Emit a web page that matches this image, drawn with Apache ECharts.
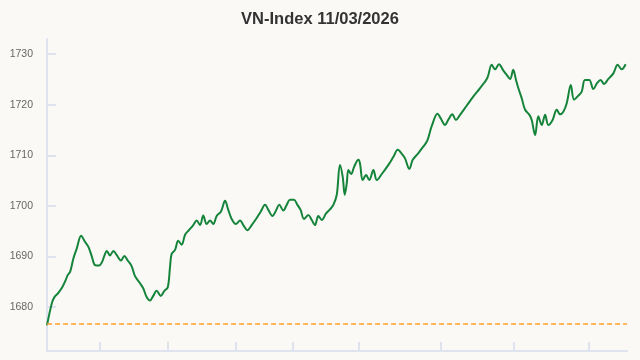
<!DOCTYPE html>
<html>
<head>
<meta charset="utf-8">
<script src="https://cdn.jsdelivr.net/npm/echarts@6/dist/echarts.min.js"></script>
<style>
html,body{margin:0;padding:0;background:#faf9f6;}
#chart{width:640px;height:360px;}
</style>
</head>
<body>
<div id="chart"></div>
<script>
// Minutes since session open (lunch break removed)
var minutes = [0,2.1,3.2,5.0,6.7,8.2,9.1,10.2,11.6,13.1,15.0,16.7,18.2,19.7,21.1,22.9,24.1,25.2,26.3,27.7,29.2,30.6,32.5,34.0,35.5,37.2,38.7,40.9,42.3,43.8,45.3,46.7,48.2,50.0,51.6,53.1,54.1,54.8,56.3,57.7,59.2,60.7,62.4,64.3,65.8,67.3,68.7,70.2,71.7,73.1,74.6,76.5,78.3,79.7,81.2,83.0,84.9,86.3,88.1,90.0,92.2,94.0,95.9,97.3,99.1,100.7,102.1,103.9,105.4,106.8,108.6,110.1,111.5,113.0,114.9,116.4,117.8,119.3,120.8,122.7,124.4,125.9,127.4,128.8,130.0,130.9,131.8,132.5,133.7,135.1,136.9,137.6,138.8,140.3,141.7,143.5,145.0,147.2,150.1,152.3,154.2,156.0,157.4,159.3,160.8,163.2,165.4,167.2,169.1,171.7,173.1,175.0,176.4,178.2,179.8,181.6,184.5,187.4,190.4,193.6,195.5,197.0,198.7,200.6,202.1,203.6,205.0,206.2,207.2,208.7,210.2,212.1,213.1,214.6,216.0,217.5,219.0,220.4,222.3,224.1,225.6,227.0,228.5,230.3,231.7,233.6,235.1,236.5,238.4,240.2,241.9,243.4,244.9,246.8,249.0,250.9,252.7,254.4];
var values = [1676.4,1680.7,1681.9,1682.8,1683.9,1685.3,1686.3,1687.0,1689.6,1691.6,1694.1,1692.9,1691.9,1690.0,1688.3,1688.2,1688.8,1690.1,1691.1,1690.2,1691.1,1690.3,1689.2,1690.1,1689.2,1688.1,1686.1,1684.7,1683.7,1682.0,1681.3,1682.2,1683.2,1682.2,1683.2,1683.9,1688.0,1690.5,1691.3,1693.1,1692.3,1694.3,1695.2,1696.2,1697.1,1696.2,1698.1,1696.4,1697.1,1696.4,1698.0,1698.9,1701.0,1699.2,1697.4,1696.4,1697.1,1696.2,1695.2,1696.2,1697.6,1698.9,1700.2,1699.2,1698.0,1699.1,1700.2,1699.1,1700.2,1701.2,1701.2,1700.2,1699.2,1697.4,1698.2,1697.2,1696.2,1698.0,1697.2,1698.5,1699.3,1700.2,1702.2,1708.1,1705.8,1702.2,1704.5,1707.1,1706.3,1707.8,1709.1,1708.4,1705.1,1706.1,1705.1,1707.1,1705.1,1706.3,1708.1,1709.7,1711.1,1710.3,1709.4,1707.3,1709.1,1710.4,1711.7,1712.9,1715.7,1718.2,1717.3,1716.0,1717.0,1718.1,1717.0,1718.0,1719.8,1721.6,1723.3,1725.3,1727.9,1727.0,1728.0,1726.8,1725.9,1725.1,1726.9,1724.9,1723.3,1721.3,1719.0,1718.0,1717.0,1714.0,1717.7,1716.0,1718.0,1716.0,1717.0,1719.0,1718.1,1718.6,1720.3,1723.9,1721.0,1721.8,1722.6,1724.9,1724.9,1723.1,1724.3,1724.9,1724.1,1725.1,1726.2,1727.9,1727.0,1728.0];
var referencePrice = 1676.77;
var yTickValues = [1680,1690,1700,1710,1720,1730];
var xTickValues = [23,53,83,108,137,173,205,238];
var titleText = 'VN-Index 11/03/2026';

var data = minutes.map(function(m,i){return [m, values[i]];});
var axisColor = '#dfe3f0';
var upColor = '#15843a', downColor = '#e02424', refColor = '#ffa030';

var vMax = Math.max.apply(null, values), vMin = Math.min.apply(null, values);
var redStart = Math.max(0, Math.min(1, (vMax - referencePrice) / (vMax - vMin)));
var lineColor = new echarts.graphic.LinearGradient(0, 0, 0, 1, [
  {offset:0, color:upColor},
  {offset:redStart, color:upColor},
  {offset:redStart, color:downColor},
  {offset:1, color:downColor}
]);

var chart = echarts.init(document.getElementById('chart'), null, {renderer:'canvas'});
chart.setOption({
  backgroundColor:'#faf9f6',
  animation:false,
  title:{
    text:titleText,
    left:'center',
    top:6,
    textStyle:{fontSize:16.5,fontWeight:'bold',color:'#333',fontFamily:'"Liberation Sans", Arial, sans-serif'}
  },
  grid:{left:47,right:13,top:39,bottom:9,containLabel:false},
  xAxis:{
    type:'value',
    min:0,max:255,
    axisLine:{show:true,lineStyle:{color:axisColor,width:2}},
    axisTick:{show:true,inside:true,length:9,customValues:xTickValues,lineStyle:{color:axisColor,width:2}},
    axisLabel:{show:false},
    splitLine:{show:false}
  },
  yAxis:{
    type:'value',
    min:1671.3,max:1733,
    axisLine:{show:true,lineStyle:{color:axisColor,width:2}},
    axisTick:{show:true,inside:true,length:9,customValues:yTickValues,lineStyle:{color:axisColor,width:2}},
    axisLabel:{show:true,customValues:yTickValues,margin:14,color:'#666',fontSize:10.5,
      fontFamily:'"Liberation Sans", Arial, sans-serif',
      formatter:function(v){return String(Math.round(v));}},
    splitLine:{show:false}
  },
  series:[{
    type:'line',
    data:data,
    smooth:0.35,
    showSymbol:false,
    lineStyle:{width:2,color:lineColor},
    itemStyle:{color:upColor},
    z:3
  },{
    type:'line',
    data:[],
    z:2,
    markLine:{
      silent:true,
      symbol:['none','none'],
      label:{show:false},
      emphasis:{disabled:true},
      itemStyle:{color:refColor},
      lineStyle:{color:refColor,type:[5,3],width:1.5,opacity:1},
      data:[{yAxis:referencePrice,lineStyle:{color:refColor,type:[5,3],width:1.5}}]
    }
  }]
});
</script>
</body>
</html>
